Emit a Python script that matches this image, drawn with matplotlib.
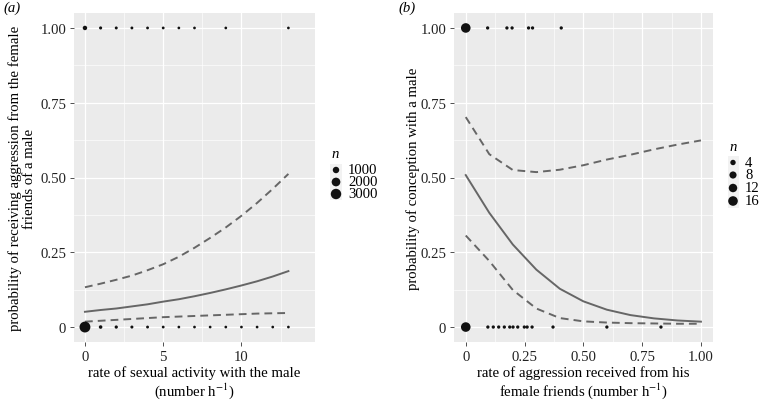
import numpy as np
import matplotlib
matplotlib.use("Agg")
import matplotlib.pyplot as plt
from matplotlib.patches import Rectangle

plt.rcParams['font.family'] = ['Liberation Serif', 'DejaVu Serif']
plt.rcParams['mathtext.fontset'] = 'stix'

################################################################
# data, panel (a): aggression vs sexual activity
a_x_yes = [0, 1, 2, 3, 4, 5, 6, 7, 9, 13]
a_n_yes = [400, 150, 130, 120, 110, 110, 100, 100, 100, 100]
a_x_no = [0, 1, 2, 3, 4, 5, 6, 7, 8, 9, 10, 11, 12, 13]
a_n_no = [3300, 220, 170, 140, 120, 110, 100, 100, 100, 100, 100, 100, 100, 100]

a_curve_x = [0, 1, 2, 3, 4, 5, 6, 7, 8, 9, 10, 11, 12, 13]
a_fit = [0.051, 0.057, 0.062, 0.069, 0.076, 0.085, 0.093, 0.103, 0.114, 0.126,
         0.139, 0.153, 0.169, 0.187]
a_upper = [0.133, 0.145, 0.158, 0.172, 0.190, 0.210, 0.235, 0.265, 0.298, 0.333,
           0.372, 0.415, 0.462, 0.512]
a_lower = [0.018, 0.021, 0.024, 0.027, 0.030, 0.033, 0.035, 0.037, 0.039, 0.041,
           0.043, 0.045, 0.046, 0.047]
a_legend_n = [1000, 2000, 3000]

# data, panel (b): conception vs aggression received
b_x_yes = [0, 0.093, 0.175, 0.197, 0.267, 0.284, 0.406]
b_n_yes = [16, 1, 1, 1, 1, 1, 1]
b_x_no = [0, 0.094, 0.117, 0.14, 0.164, 0.187, 0.201, 0.221, 0.249, 0.261,
          0.282, 0.371, 0.6, 0.83]
b_n_no = [16, 1, 1, 1, 1, 1, 1, 1, 1, 1, 1, 1, 1, 1]

b_curve_x = [0, 0.1, 0.2, 0.3, 0.4, 0.5, 0.6, 0.7, 0.8, 0.9, 1.0]
b_fit = [0.508, 0.382, 0.276, 0.192, 0.128, 0.086, 0.058, 0.040, 0.029, 0.022, 0.018]
b_upper = [0.702, 0.578, 0.525, 0.518, 0.526, 0.541, 0.560, 0.576, 0.594, 0.610, 0.624]
b_lower = [0.306, 0.221, 0.124, 0.062, 0.030, 0.019, 0.015, 0.013, 0.012, 0.011, 0.011]
b_legend_n = [4, 8, 12, 16]

y_ticks = [0, 0.25, 0.5, 0.75, 1.0]
y_ticklabels = ['0', '0.25', '0.50', '0.75', '1.00']

################################################################
# helpers
W, H = 761, 402
BG = '#EBEBEB'
LINE = '#666666'
DOT = '#111111'
FS = 10.6


def size_a(n):
    d = 1.0 + 0.172 * np.sqrt(np.asarray(n, dtype=float))   # diameter in px
    return (d * 0.72) ** 2


def size_b(n):
    d = 1.2 + 2.1 * np.sqrt(np.asarray(n, dtype=float))
    return (d * 0.72) ** 2


def box(x0, y0, x1, y1):
    return [x0 / W, 1 - y1 / H, (x1 - x0) / W, (y1 - y0) / H]


def style(ax):
    ax.set_facecolor(BG)
    for s in ax.spines.values():
        s.set_visible(False)
    ax.grid(True, which='major', color='white', lw=0.9)
    ax.grid(True, which='minor', color='white', lw=0.45)
    ax.set_axisbelow(True)
    ax.tick_params(which='major', length=3, width=0.6, color='#333333',
                   labelsize=FS, labelcolor='#222222', pad=2.5)
    ax.tick_params(axis='x', which='major', pad=3)
    ax.tick_params(which='minor', length=0)
    ax.set_ylim(-0.05, 1.05)
    ax.set_yticks(y_ticks)
    ax.set_yticklabels(y_ticklabels)
    ax.set_yticks([0.125, 0.375, 0.625, 0.875], minor=True)


def draw_legend(x0, y0, x1, y1, title_xy, keys_x, keys_y, key_w, key_h, label_x, ns, sfun):
    lg = fig.add_axes(box(x0, y0, x1, y1))
    lg.set_xlim(x0, x1)
    lg.set_ylim(y1, y0)
    lg.axis('off')
    lg.text(title_xy[0], title_xy[1], 'n', style='italic', fontsize=FS,
            ha='center', va='center')
    for ky, n in zip(keys_y, ns):
        lg.add_patch(Rectangle((keys_x - key_w / 2, ky - key_h / 2), key_w, key_h,
                               facecolor='#F2F2F2', edgecolor='none'))
        lg.scatter([keys_x], [ky], s=sfun(n), color=DOT, edgecolor='none', zorder=3)
        lg.text(label_x, ky, str(n), fontsize=FS, ha='left', va='center')


fig = plt.figure(figsize=(W / 100, H / 100), dpi=100)

################################################################
# panel (a)
ax1 = fig.add_axes(box(74, 14, 315, 343))
style(ax1)
ax1.set_xlim(-0.7, 14.7)
ax1.set_xticks([0, 5, 10])
ax1.set_xticks([2.5, 7.5, 12.5], minor=True)
ax1.scatter(a_x_yes, np.ones(len(a_x_yes)), s=size_a(a_n_yes), color=DOT,
            edgecolor='none', zorder=3)
ax1.scatter(a_x_no, np.zeros(len(a_x_no)), s=size_a(a_n_no), color=DOT,
            edgecolor='none', zorder=3)
ax1.plot(a_curve_x, a_fit, color=LINE, lw=1.4)
ax1.plot(a_curve_x, a_upper, color=LINE, lw=1.4, ls=(0, (4, 2.6)))
ax1.plot(a_curve_x, a_lower, color=LINE, lw=1.4, ls=(0, (4, 2.6)))
ax1.set_xlabel('rate of sexual activity with the male\n(number h$^{-1}$)',
               fontsize=FS, linespacing=1.05, labelpad=1.5)
fig.text(22 / W, 1 - 178.5 / H,
         'probability of receiving aggression from the female\nfriends of a male',
         rotation=90, ha='center', va='center', fontsize=FS, linespacing=1.1,
         multialignment='center')
fig.text(3 / W, 1 - 8 / H, '(a)', style='italic', fontsize=FS, ha='left', va='center')

draw_legend(325, 145, 380, 205, (335, 155), 336, [171, 183, 195], 12, 12, 348,
            a_legend_n, size_a)

################################################################
# panel (b)
ax2 = fig.add_axes(box(454, 14, 712.7, 343))
style(ax2)
ax2.set_xlim(-0.05, 1.05)
ax2.set_xticks([0, 0.25, 0.5, 0.75, 1.0])
ax2.set_xticklabels(['0', '0.25', '0.50', '0.75', '1.00'])
ax2.set_xticks([0.125, 0.375, 0.625, 0.875], minor=True)
ax2.scatter(b_x_yes, np.ones(len(b_x_yes)), s=size_b(b_n_yes), color=DOT,
            edgecolor='none', zorder=3)
ax2.scatter(b_x_no, np.zeros(len(b_x_no)), s=size_b(b_n_no), color=DOT,
            edgecolor='none', zorder=3)
ax2.plot(b_curve_x, b_fit, color=LINE, lw=1.4)
ax2.plot(b_curve_x, b_upper, color=LINE, lw=1.4, ls=(0, (4, 2.6)))
ax2.plot(b_curve_x, b_lower, color=LINE, lw=1.4, ls=(0, (4, 2.6)))
ax2.set_xlabel('rate of aggression received from his\nfemale friends (number h$^{-1}$)',
               fontsize=FS, linespacing=1.05, labelpad=1.5)
fig.text(413 / W, 1 - 178.5 / H, 'probability of conception with a male',
         rotation=90, ha='center', va='center', fontsize=FS)
fig.text(398 / W, 1 - 8 / H, '(b)', style='italic', fontsize=FS, ha='left', va='center')

draw_legend(722, 140, 761, 210, (733, 148), 733, [163.5, 176, 189, 202], 11, 13, 745,
            b_legend_n, size_b)

fig.savefig('out.png', dpi=100)
plt.close()
